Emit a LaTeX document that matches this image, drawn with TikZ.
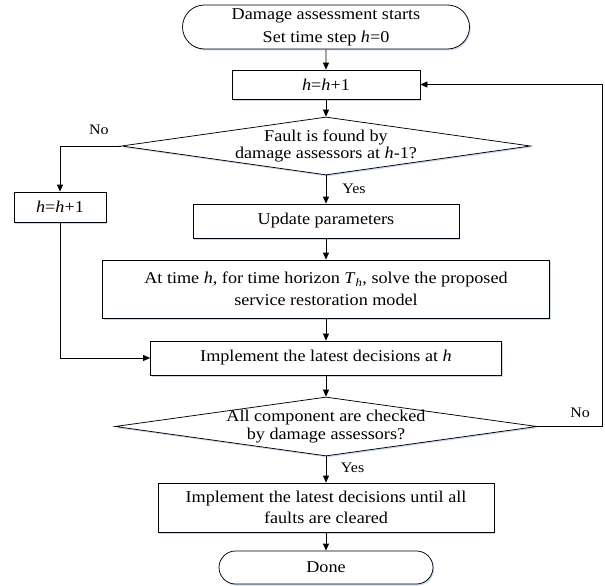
\documentclass[tikz,border=0pt]{standalone}
\usepackage{fontspec}
\setmainfont{Liberation Serif}[FakeStretch=1.1]
\usetikzlibrary{shapes.geometric,shapes.misc,arrows.meta,shadows}
\definecolor{shadowblue}{RGB}{200,218,240}
\begin{document}
\begin{tikzpicture}[x=1pt,y=-1pt,
  line width=0.75pt,
  >={Triangle[length=7pt,width=6pt]},
  shd/.style={drop shadow={shadow xshift=1.2pt,shadow yshift=-1.5pt,fill=shadowblue,opacity=1}},
  proc/.style={draw,fill=white,rectangle,inner sep=0pt,align=center,shd,font=\fontsize{16.5}{21.5}\selectfont},
  term/.style={proc,rounded rectangle},
  dec/.style={draw,fill=white,diamond,inner sep=0pt,shd},
  dectext/.style={align=center,inner sep=0pt,font=\fontsize{16.5}{17.7}\selectfont},
  lbl/.style={inner sep=0pt,font=\fontsize{14.5}{16}\selectfont},
  conn/.style={->}
]
\useasboundingbox (0,0) rectangle (605,586);
\node[term,minimum width=287pt,minimum height=44pt,font=\fontsize{16.5}{23}\selectfont] (start) at (326,27) {Damage assessment starts\\Set time step \textit{h}=0};
\node[proc,minimum width=188pt,minimum height=29pt] (b1) at (326,84.5) {\textit{h}=\textit{h}+1};
\node[dec,minimum width=409pt,minimum height=58pt] (d1) at (326,146) {};
\node[dectext] (d1t) at (326,146) {Fault is found by\\damage assessors at \textit{h}-1?};
\node[proc,minimum width=92pt,minimum height=30pt] (b2) at (60,207) {\textit{h}=\textit{h}+1};
\node[proc,minimum width=266pt,minimum height=34pt] (b3) at (326,221) {Update parameters};
\node[proc,minimum width=447pt,minimum height=58pt] (b4) at (326,289) {At time \textit{h}, for time horizon \textit{T}\textsubscript{\textit{h}}, solve the proposed\\service restoration model};
\node[proc,minimum width=351pt,minimum height=34pt] (b5) at (326,358) {Implement the latest decisions at \textit{h}};
\node[dec,minimum width=422pt,minimum height=59pt] (d2) at (326,426.5) {};
\node[dectext] (d2t) at (326,426.5) {All component are checked\\by damage assessors?};
\node[proc,minimum width=336pt,minimum height=49pt] (b6) at (326,507.5) {Implement the latest decisions until all\\faults are cleared};
\node[term,minimum width=214pt,minimum height=33pt] (done) at (326,567.5) {Done};
\node[lbl] (no1) at (98.8,130) {No};
\node[lbl] (yes1) at (354,189) {Yes};
\node[lbl] (no2) at (580,412.5) {No};
\node[lbl] (yes2) at (352.6,468) {Yes};
\coordinate (rc) at (602,426.5);
\draw[conn] (start) -- (b1);
\draw[conn] (b1) -- (d1);
\draw[conn] (d1) -- (b3);
\draw[conn] (d1.west) -| (b2.north);
\draw[conn] (b2.south) |- (b5.west);
\draw[conn] (b3) -- (b4);
\draw[conn] (b4) -- (b5);
\draw[conn] (b5) -- (d2);
\draw[conn] (d2) -- (b6);
\draw[conn] (b6) -- (done);
\draw[conn] (d2.east) -- (rc) |- (b1.east);
\end{tikzpicture}
\end{document}
